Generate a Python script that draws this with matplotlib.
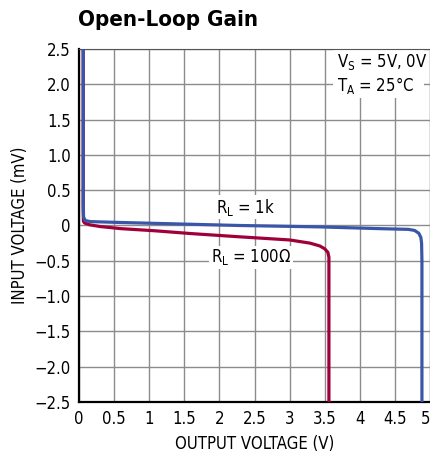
import numpy as np
import matplotlib.pyplot as plt
from matplotlib.patches import Rectangle
from matplotlib.transforms import ScaledTranslation

# data
x_ticks = [0, 0.5, 1, 1.5, 2, 2.5, 3, 3.5, 4, 4.5, 5]
x_labels = ["0", "0.5", "1", "1.5", "2", "2.5", "3", "3.5", "4", "4.5", "5"]
y_ticks = [2.5, 2.0, 1.5, 1.0, 0.5, 0, -0.5, -1.0, -1.5, -2.0, -2.5]
y_labels = ["2.5", "2.0", "1.5", "1.0", "0.5", "0", "\u22120.5", "\u22121.0", "\u22121.5", "\u22122.0", "\u22122.5"]

# R_L = 1k
vout_1k = [0.06, 0.06, 0.065, 0.09, 0.16, 0.5, 1.08, 2.28, 3.43, 4.29, 4.69, 4.78, 4.84, 4.87, 4.88, 4.885, 4.885]
vin_1k = [2.5, 0.3, 0.12, 0.07, 0.055, 0.045, 0.03, 0.0, -0.02, -0.045, -0.055, -0.07, -0.11, -0.17, -0.25, -0.5, -2.5]

# R_L = 100 ohm
vout_100 = [0.06, 0.06, 0.063, 0.08, 0.15, 0.3, 0.6, 1.08, 1.6, 2.28, 3.0, 3.29, 3.43, 3.5, 3.545, 3.56, 3.56]
vin_100 = [2.5, 0.2, 0.06, 0.035, 0.01, -0.015, -0.045, -0.075, -0.115, -0.16, -0.205, -0.25, -0.29, -0.33, -0.38, -0.45, -2.5]

plt.rcParams['font.family'] = ['DejaVu Sans']
plt.rcParams['font.stretch'] = 'condensed'

fig = plt.figure(figsize=(4.31, 4.62), dpi=100)
ax = fig.add_axes([0.1833, 0.1299, 0.8144, 0.7641])

ax.plot(vout_100, vin_100, color='#A0003A', lw=2.3, solid_joinstyle='round', zorder=3)
ax.plot(vout_1k, vin_1k, color='#3A56A8', lw=2.3, solid_joinstyle='round', zorder=4)

ax.set_xlim(0, 5)
ax.set_ylim(-2.5, 2.5)
ax.set_xticks(x_ticks)
ax.set_xticklabels(x_labels)
ax.set_yticks(y_ticks)
ax.set_yticklabels(y_labels)
ax.tick_params(length=0, labelsize=12, pad=6)
# nudge the last x label so it stays inside the figure
lab = ax.get_xticklabels()[-1]
lab.set_transform(lab.get_transform() + ScaledTranslation(-4/100, 0, fig.dpi_scale_trans))
ax.grid(True, color='#8c8c8c', lw=1.0)
ax.set_axisbelow(True)
for s in ['left', 'bottom']:
    ax.spines[s].set_linewidth(1.6)
for s in ['top', 'right']:
    ax.spines[s].set_linewidth(0.8)
    ax.spines[s].set_color('#555555')

ax.set_xlabel('OUTPUT VOLTAGE (V)', fontsize=12, labelpad=5)
ax.set_ylabel('INPUT VOLTAGE (mV)', fontsize=12, labelpad=4)

ax.add_patch(Rectangle((3.62, 1.81), 1.3, 0.69, facecolor='white', edgecolor='none', zorder=2))
ax.text(3.67, 2.31, r'V$_\mathregular{S}$ = 5V, 0V', ha='left', va='center', fontsize=12, zorder=5)
ax.text(3.67, 1.98, r'T$_\mathregular{A}$ = 25°C', ha='left', va='center', fontsize=12, zorder=5)

box = dict(facecolor='white', edgecolor='none', pad=1)
ax.text(2.37, 0.26, r'R$_\mathregular{L}$ = 1k', ha='center', va='center', fontsize=12, bbox=box, zorder=5)
ax.text(2.45, -0.45, r'R$_\mathregular{L}$ = 100Ω', ha='center', va='center', fontsize=12, bbox=box, zorder=5)

fig.text(0.181, 0.957, 'Open-Loop Gain', fontsize=16, fontweight='bold', ha='left', va='center')

fig.savefig('out.png', dpi=100)
